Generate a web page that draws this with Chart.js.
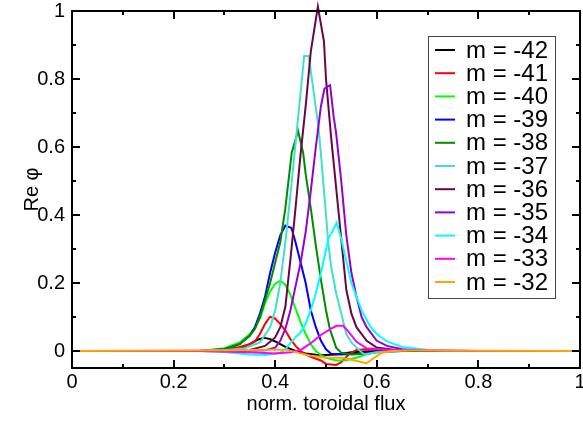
<!DOCTYPE html>
<html>
<head>
<meta charset="utf-8">
<script src="https://cdn.jsdelivr.net/npm/chart.js@4.4.0/dist/chart.umd.min.js"></script>
<style>
  html, body { margin: 0; padding: 0; background: #fff; }
  #wrap { width: 583px; height: 421px; }
</style>
</head>
<body>
<div id="wrap"><canvas id="fluxChart" width="583" height="421"></canvas></div>
<script>
// ---- data ----
const modeLabels = ["m = -42", "m = -41", "m = -40", "m = -39", "m = -38", "m = -37",
                    "m = -36", "m = -35", "m = -34", "m = -33", "m = -32"];

const xTickValues = [0, 0.2, 0.4, 0.6, 0.8, 1];
const xMinorValues = [0.1, 0.3, 0.5, 0.7, 0.9];
const yTickValues = [0, 0.2, 0.4, 0.6, 0.8, 1];
const yMinorValues = [0.1, 0.3, 0.5, 0.7, 0.9];

const xM42 = [0, 0.25, 0.30, 0.33, 0.35, 0.365, 0.378, 0.39, 0.40, 0.41, 0.42, 0.44, 0.46, 0.48, 0.50, 0.52, 0.55, 0.60, 1.0];
const yM42 = [0, 0, 0.002, 0.008, 0.02, 0.033, 0.039, 0.035, 0.028, 0.02, 0.012, 0.0, -0.007, -0.011, -0.012, -0.01, -0.004, 0, 0];

const xM41 = [0, 0.25, 0.30, 0.33, 0.35, 0.36, 0.37, 0.38, 0.39, 0.40, 0.41, 0.42, 0.43, 0.44, 0.45, 0.46, 0.47, 0.49, 0.50, 0.52, 0.53, 0.545, 0.56, 0.58, 0.62, 0.70, 0.80, 1.0];
const yM41 = [0, 0, 0.003, 0.012, 0.02, 0.028, 0.05, 0.08, 0.101, 0.095, 0.08, 0.06, 0.035, 0.015, 0.0, -0.01, -0.017, -0.028, -0.038, -0.041, -0.033, -0.01, 0.003, 0.005, 0.004, 0.001, 0, 0];

const xM40 = [0, 0.25, 0.30, 0.33, 0.35, 0.36, 0.37, 0.38, 0.39, 0.40, 0.41, 0.42, 0.43, 0.44, 0.45, 0.46, 0.47, 0.48, 0.49, 0.50, 0.52, 0.54, 0.56, 0.58, 0.60, 0.65, 1.0];
const yM40 = [0, 0, 0.008, 0.025, 0.05, 0.068, 0.095, 0.14, 0.175, 0.198, 0.207, 0.195, 0.165, 0.125, 0.085, 0.05, 0.02, 0.0, -0.012, -0.02, -0.028, -0.027, -0.02, -0.01, -0.003, 0, 0];

const xM39 = [0, 0.25, 0.30, 0.33, 0.35, 0.36, 0.37, 0.38, 0.39, 0.40, 0.41, 0.42, 0.432, 0.44, 0.45, 0.46, 0.47, 0.48, 0.49, 0.50, 0.51, 0.53, 0.56, 0.60, 0.65, 1.0];
const yM39 = [0, 0, 0.005, 0.02, 0.045, 0.07, 0.11, 0.16, 0.23, 0.29, 0.34, 0.369, 0.362, 0.32, 0.26, 0.2, 0.12, 0.07, 0.03, 0.005, -0.008, -0.01, -0.008, -0.003, 0, 0];

const xM38 = [0, 0.25, 0.30, 0.33, 0.35, 0.36, 0.37, 0.38, 0.39, 0.40, 0.41, 0.42, 0.4325, 0.445, 0.455, 0.46, 0.47, 0.48, 0.49, 0.50, 0.508, 0.52, 0.53, 0.55, 0.58, 0.62, 1.0];
const yM38 = [0, 0, 0.005, 0.02, 0.045, 0.065, 0.1, 0.15, 0.2, 0.26, 0.32, 0.42, 0.583, 0.647, 0.583, 0.52, 0.42, 0.31, 0.21, 0.12, 0.062, 0.01, -0.005, -0.01, -0.008, 0, 0];

const xM37 = [0, 0.25, 0.30, 0.34, 0.37, 0.39, 0.40, 0.41, 0.42, 0.43, 0.44, 0.45, 0.457, 0.466, 0.475, 0.485, 0.49, 0.50, 0.505, 0.51, 0.52, 0.53, 0.54, 0.55, 0.56, 0.575, 0.60, 0.65, 1.0];
const yM37 = [0, 0, 0.002, 0.008, 0.025, 0.07, 0.12, 0.2, 0.32, 0.46, 0.61, 0.76, 0.868, 0.868, 0.77, 0.66, 0.58, 0.40, 0.31, 0.25, 0.17, 0.11, 0.05, 0.025, 0.01, -0.01, -0.004, 0, 0];

const xM36 = [0, 0.25, 0.30, 0.35, 0.38, 0.40, 0.41, 0.42, 0.43, 0.44, 0.45, 0.46, 0.47, 0.484, 0.496, 0.50, 0.51, 0.52, 0.53, 0.54, 0.55, 0.56, 0.58, 0.60, 0.65, 1.0];
const yM36 = [0, 0, 0, 0.003, 0.015, 0.04, 0.07, 0.13, 0.27, 0.42, 0.58, 0.72, 0.88, 1.013, 0.91, 0.80, 0.63, 0.48, 0.33, 0.18, 0.11, 0.07, 0.03, 0.01, 0, 0];

const xM35 = [0, 0.30, 0.38, 0.40, 0.41, 0.42, 0.43, 0.44, 0.45, 0.46, 0.47, 0.48, 0.49, 0.497, 0.508, 0.515, 0.52, 0.53, 0.54, 0.55, 0.56, 0.57, 0.58, 0.60, 0.62, 0.65, 0.70, 1.0];
const yM35 = [0, 0, 0.002, 0.01, 0.03, 0.065, 0.12, 0.19, 0.26, 0.35, 0.47, 0.6, 0.72, 0.772, 0.782, 0.69, 0.64, 0.50, 0.34, 0.23, 0.16, 0.10, 0.07, 0.03, 0.015, 0.005, 0, 0];

const xM34 = [0, 0.25, 0.30, 0.35, 0.38, 0.41, 0.42, 0.43, 0.44, 0.45, 0.46, 0.47, 0.48, 0.49, 0.50, 0.505, 0.512, 0.521, 0.53, 0.54, 0.55, 0.56, 0.57, 0.587, 0.60, 0.62, 0.65, 0.70, 0.75, 1.0];
const yM34 = [0, 0, -0.003, -0.01, -0.012, -0.005, 0.005, 0.023, 0.04, 0.055, 0.08, 0.12, 0.17, 0.23, 0.298, 0.332, 0.35, 0.377, 0.33, 0.265, 0.2, 0.16, 0.12, 0.072, 0.05, 0.028, 0.012, 0.004, 0, 0];

const xM33 = [0, 0.25, 0.35, 0.40, 0.43, 0.45, 0.47, 0.49, 0.51, 0.521, 0.534, 0.547, 0.56, 0.58, 0.62, 0.70, 0.80, 1.0];
const yM33 = [0, 0, -0.004, -0.007, -0.004, 0.003, 0.023, 0.047, 0.066, 0.074, 0.074, 0.052, 0.027, 0.008, 0.004, 0.002, 0, 0];

const xM32 = [0, 0.30, 0.38, 0.42, 0.45, 0.47, 0.50, 0.53, 0.55, 0.58, 0.595, 0.61, 0.63, 0.70, 0.80, 1.0];
const yM32 = [0, 0.002, 0.004, 0.004, -0.007, -0.014, -0.02, -0.02, -0.026, -0.036, -0.02, -0.005, 0, 0.002, 0.001, 0];

const seriesX = [xM42, xM41, xM40, xM39, xM38, xM37, xM36, xM35, xM34, xM33, xM32];
const seriesY = [yM42, yM41, yM40, yM39, yM38, yM37, yM36, yM35, yM34, yM33, yM32];

// grace-like colour map
const lineColors = ["#000000", "#ff0000", "#00ff00", "#0000ff", "#008b00", "#40e0d0",
                    "#670748", "#9400d3", "#00ffff", "#ff00ff", "#ffa500"];

const FONT = "'Liberation Sans', Arial, Helvetica, sans-serif";

/* frame + inward ticks on all four sides */
const frameTicks = {
  id: "frameTicks",
  afterDatasetsDraw(chart) {
    const { ctx, chartArea: a, scales: { x, y } } = chart;
    ctx.save();
    ctx.strokeStyle = "#000";
    ctx.lineWidth = 2;
    ctx.strokeRect(a.left, a.top, a.right - a.left, a.bottom - a.top);

    ctx.beginPath();
    const xt = (vals, len) => vals.forEach(v => {
      const p = Math.round(x.getPixelForValue(v));
      ctx.moveTo(p, a.bottom); ctx.lineTo(p, a.bottom - len);
      ctx.moveTo(p, a.top); ctx.lineTo(p, a.top + len);
    });
    const yt = (vals, len) => vals.forEach(v => {
      const p = Math.round(y.getPixelForValue(v));
      ctx.moveTo(a.left, p); ctx.lineTo(a.left + len, p);
      ctx.moveTo(a.right, p); ctx.lineTo(a.right - len, p);
    });
    xt(xTickValues, 8);
    xt(xMinorValues, 4);
    yt(yTickValues, 8);
    yt(yMinorValues, 4);
    ctx.stroke();
    ctx.restore();
  }
};

/* legend box inside the plot, top right */
const boxLegend = {
  id: "boxLegend",
  afterDraw(chart) {
    const { ctx } = chart;
    const left = 428, top = 36, w = 127, h = 262;
    const step = 23.2;
    ctx.save();
    ctx.fillStyle = "#fff";
    ctx.fillRect(left, top, w, h);
    ctx.strokeStyle = "#444";
    ctx.lineWidth = 1;
    ctx.strokeRect(left + 0.5, top + 0.5, w, h);
    ctx.font = "24px " + FONT;
    ctx.textBaseline = "middle";
    ctx.textAlign = "left";
    chart.data.datasets.forEach((ds, i) => {
      const cy = top + 14 + i * step;
      ctx.strokeStyle = ds.borderColor;
      ctx.lineWidth = 2;
      ctx.beginPath();
      ctx.moveTo(435, cy);
      ctx.lineTo(455, cy);
      ctx.stroke();
      ctx.fillStyle = "#000";
      ctx.fillText(ds.label, 466, cy + 1);
    });
    ctx.restore();
  }
};

const ctx = document.getElementById("fluxChart").getContext("2d");

new Chart(ctx, {
  type: "line",
  data: {
    datasets: modeLabels.map((lab, i) => ({
      label: lab,
      data: seriesX[i].map((xv, k) => ({ x: xv, y: seriesY[i][k] })),
      borderColor: lineColors[i],
      backgroundColor: lineColors[i],
      borderWidth: 2,
      pointRadius: 0,
      tension: 0,
      fill: false,
      clip: false,
      order: modeLabels.length - i
    }))
  },
  options: {
    responsive: false,
    animation: false,
    layout: { padding: { top: 11, right: 3, left: 0, bottom: 0 } },
    plugins: {
      legend: { display: false },
      tooltip: { enabled: false }
    },
    scales: {
      x: {
        type: "linear",
        min: 0,
        max: 1,
        grid: { display: false, drawTicks: false },
        border: { display: false },
        afterBuildTicks: (s) => { s.ticks = xTickValues.map(v => ({ value: v })); },
        afterFit: (s) => { s.height = 53; s.paddingLeft = 0; s.paddingRight = 0; },
        ticks: {
          color: "#000",
          padding: 2,
          maxRotation: 0,
          font: { family: FONT, size: 20 },
          callback: (v) => String(v)
        },
        title: {
          display: true,
          text: "norm. toroidal flux",
          color: "#000",
          font: { family: FONT, size: 20 },
          padding: { top: 0, bottom: 5 }
        }
      },
      y: {
        min: -0.05,
        max: 1,
        grid: { display: false, drawTicks: false },
        border: { display: false },
        afterBuildTicks: (s) => { s.ticks = yTickValues.map(v => ({ value: v })); },
        afterFit: (s) => { s.width = 72; s.paddingTop = 0; s.paddingBottom = 0; },
        ticks: {
          color: "#000",
          padding: 7,
          font: { family: FONT, size: 20 },
          callback: (v) => String(v)
        },
        title: {
          display: true,
          text: "Re φ",
          color: "#000",
          font: { family: FONT, size: 20 },
          padding: { top: 20, bottom: 0 }
        }
      }
    }
  },
  plugins: [frameTicks, boxLegend]
});
</script>
</body>
</html>
